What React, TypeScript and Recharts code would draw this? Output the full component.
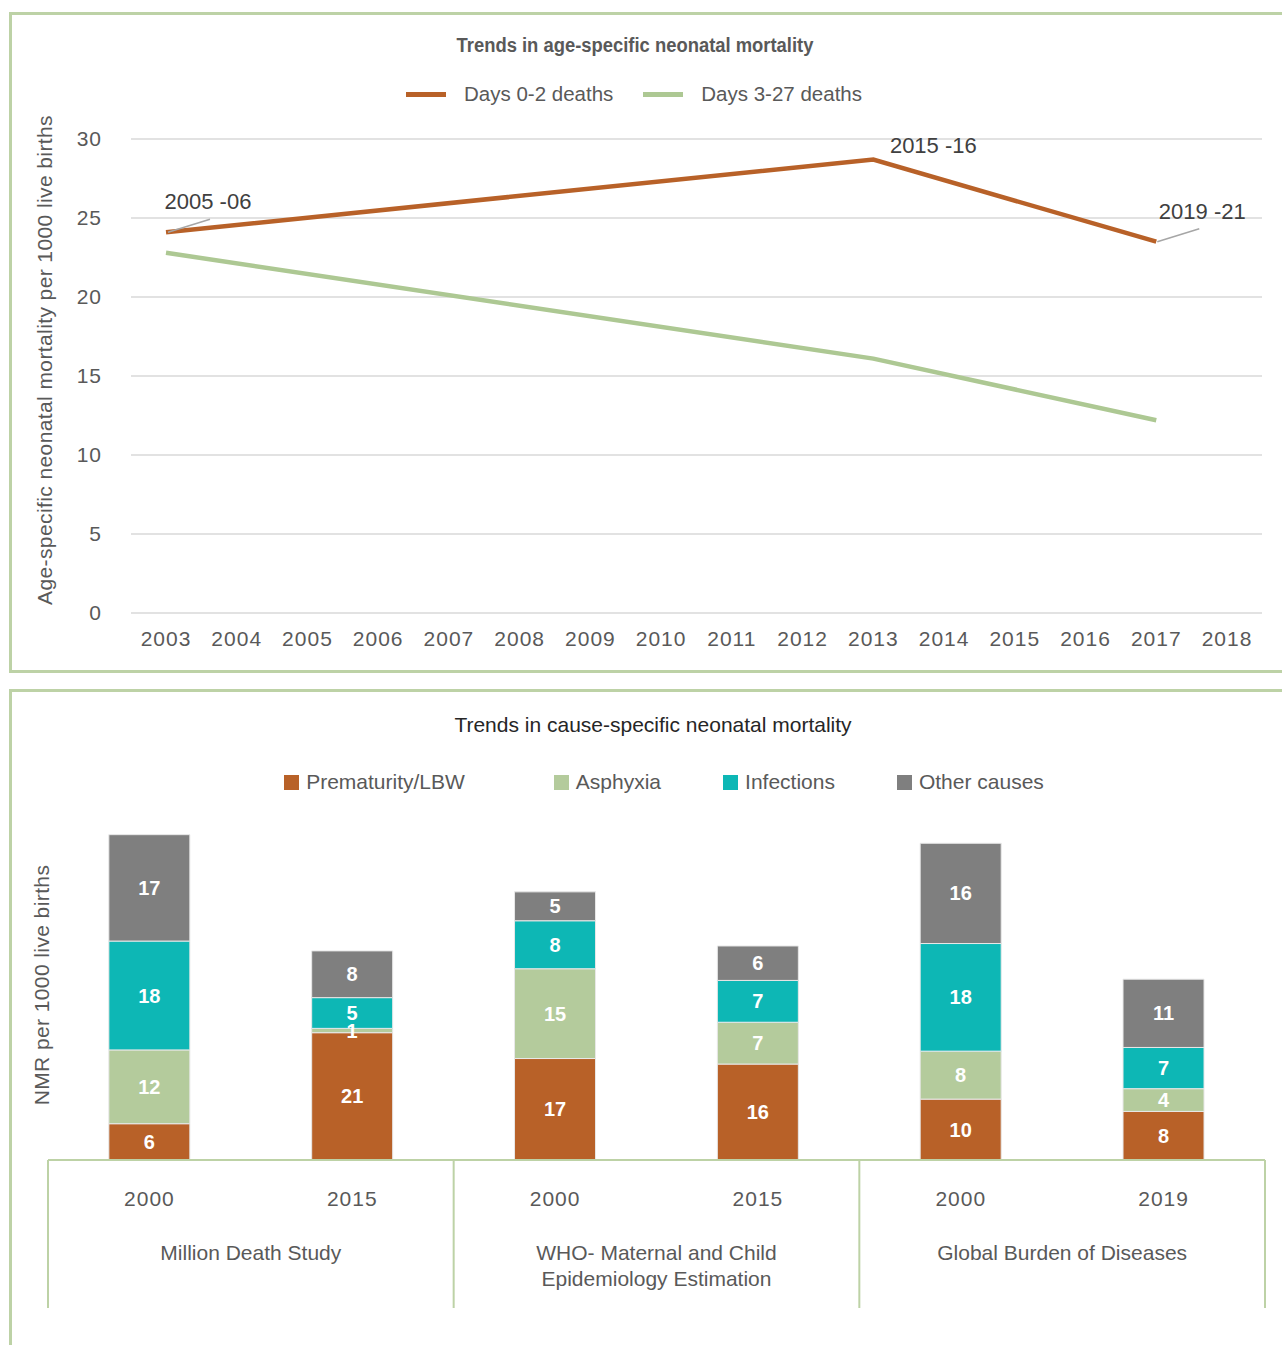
import React from "react";
import { Bar, BarChart, CartesianGrid, LabelList, Legend, Line, LineChart, XAxis, YAxis } from "recharts";

// top chart: age-specific neonatal mortality
const YEARS = ["2003", "2004", "2005", "2006", "2007", "2008", "2009", "2010", "2011", "2012", "2013", "2014", "2015", "2016", "2017", "2018"];
const SURVEY_YEARS = ["2003", "2013", "2017"];
const SURVEY_LABELS = ["2005 -06", "2015 -16", "2019 -21"];
const DAYS_0_2 = [24.1, 28.7, 23.5];
const DAYS_3_27 = [22.8, 16.1, 12.2];
const MORTALITY_TICKS = [0, 5, 10, 15, 20, 25, 30];

// bottom chart: cause-specific neonatal mortality
const STUDY_YEARS = ["2000", "2015", "2000", "2015", "2000", "2019"];
const STUDIES = [["Million Death Study"], ["WHO- Maternal and Child", "Epidemiology Estimation"], ["Global Burden of Diseases"]];
const PREMATURITY = [5.9, 20.7, 16.5, 15.6, 9.9, 7.9];
const ASPHYXIA = [12.0, 0.7, 14.6, 6.8, 7.8, 3.7];
const INFECTIONS = [17.7, 5.0, 7.8, 6.8, 17.5, 6.7];
const OTHER = [17.3, 7.6, 4.7, 5.6, 16.3, 11.1];

const ORANGE = "#B86128";
const SAGE = "#B4CB9C";
const TEAL = "#0DB7B5";
const GREY = "#7F7F7F";
const BORDER = "#BDD2A6";
const TEXT = "#595959";

const LINE_SERIES = [
  { key: "early", name: "Days 0-2 deaths", color: ORANGE },
  { key: "late", name: "Days 3-27 deaths", color: "#ADC893" },
];

const CAUSES = [
  { key: "prematurity", name: "Prematurity/LBW", color: ORANGE },
  { key: "asphyxia", name: "Asphyxia", color: SAGE },
  { key: "infections", name: "Infections", color: TEAL },
  { key: "other", name: "Other causes", color: GREY },
];
const CAUSE_GAPS = [0, 89, 62, 62];

const lineData = YEARS.map((year) => {
  const i = SURVEY_YEARS.indexOf(year);
  return {
    year,
    survey: i >= 0 ? SURVEY_LABELS[i] : undefined,
    early: i >= 0 ? DAYS_0_2[i] : null,
    late: i >= 0 ? DAYS_3_27[i] : null,
  };
});

const barData = STUDY_YEARS.map((year, i) => ({
  year,
  prematurity: PREMATURITY[i],
  asphyxia: ASPHYXIA[i],
  infections: INFECTIONS[i],
  other: OTHER[i],
}));

const W = 1282;
const BAR_MARGIN = { top: 101, right: 17, bottom: 35, left: 48 };
const BAND = (W - BAR_MARGIN.left - BAR_MARGIN.right) / STUDY_YEARS.length;
const TICK_FONT = { fill: TEXT, fontSize: 21, letterSpacing: 1 };

// where each survey label sits relative to its point
const LABEL_POS = [
  { dx: 42, dy: -23, leader: [2, 0, 44, -13] },
  { dx: 60, dy: -7, leader: null },
  { dx: 46, dy: -23, leader: [1, 0, 43, -13] },
];

function SurveyLabel(props: any) {
  const { x, y, value } = props;
  if (value == null || x == null || y == null) return null;
  const pos = LABEL_POS[SURVEY_LABELS.indexOf(value)];
  if (!pos) return null;
  return (
    <g>
      {pos.leader && (
        <line x1={x + pos.leader[0]} y1={y + pos.leader[1]} x2={x + pos.leader[2]} y2={y + pos.leader[3]} stroke="#A6A6A6" strokeWidth={1.5} />
      )}
      <text x={x + pos.dx} y={y + pos.dy} textAnchor="middle" fill="#404040" fontSize={22}>
        {value}
      </text>
    </g>
  );
}

function StudyTick(props: any) {
  const { x, y, payload } = props;
  const i = props.index ?? payload.index;
  const half = BAND / 2;
  const study = i % 2 === 1 ? STUDIES[(i - 1) / 2] : null;
  return (
    <g>
      <text x={x} y={y + 46} textAnchor="middle" {...TICK_FONT}>
        {STUDY_YEARS[i]}
      </text>
      {i % 2 === 0 && <line x1={x - half} x2={x - half} y1={y} y2={y + 148} stroke={BORDER} strokeWidth={2} />}
      {i === STUDY_YEARS.length - 1 && <line x1={x + half} x2={x + half} y1={y} y2={y + 148} stroke={BORDER} strokeWidth={2} />}
      {study && (
        <text x={x - half} y={y + 100} textAnchor="middle" fill={TEXT} fontSize={21}>
          {study.map((line, k) => (
            <tspan key={k} x={x - half} dy={k === 0 ? 0 : 26}>
              {line}
            </tspan>
          ))}
        </text>
      )}
    </g>
  );
}

function LineLegend() {
  return (
    <div style={{ display: "flex", justifyContent: "center", alignItems: "center", paddingRight: 14, fontSize: 20.5, color: TEXT }}>
      {LINE_SERIES.map((s, i) => (
        <div key={s.key} style={{ display: "flex", alignItems: "center", marginLeft: i ? 30 : 0 }}>
          <span style={{ display: "inline-block", width: 40, height: 5, background: s.color, marginRight: 18 }} />
          <span>{s.name}</span>
        </div>
      ))}
    </div>
  );
}

function CauseLegend() {
  return (
    <div style={{ display: "flex", justifyContent: "center", alignItems: "center", paddingLeft: 46, fontSize: 21, color: TEXT }}>
      {CAUSES.map((s, i) => (
        <div key={s.key} style={{ display: "flex", alignItems: "center", marginLeft: CAUSE_GAPS[i] }}>
          <span style={{ display: "inline-block", width: 15, height: 15, background: s.color, marginRight: 7 }} />
          <span>{s.name}</span>
        </div>
      ))}
    </div>
  );
}

function VerticalLabel({ x, y, children }: { x: number; y: number; children: React.ReactNode }) {
  return (
    <div
      style={{
        position: "absolute",
        left: x,
        top: y,
        transform: "translate(-50%, -50%) rotate(-90deg)",
        whiteSpace: "nowrap",
        fontSize: 21,
        letterSpacing: 0.4,
        color: TEXT,
      }}
    >
      {children}
    </div>
  );
}

export default function App() {
  return (
    <div
      style={{
        position: "absolute",
        left: 0,
        top: 0,
        width: W,
        height: 1345,
        overflow: "hidden",
        background: "#fff",
        fontFamily: "'Liberation Sans', Arial, sans-serif",
      }}
    >
      <div style={{ position: "absolute", left: 9, top: 12, width: 1300, height: 661, border: `3px solid ${BORDER}`, boxSizing: "border-box" }} />
      <div style={{ position: "absolute", left: 9, top: 689, width: 1300, height: 700, border: `3px solid ${BORDER}`, boxSizing: "border-box" }} />

      <div
        style={{
          position: "absolute",
          left: 635,
          top: 45,
          transform: "translate(-50%, -50%) scaleX(0.92)",
          whiteSpace: "nowrap",
          fontWeight: "bold",
          fontSize: 20,
          color: TEXT,
        }}
      >
        Trends in age-specific neonatal mortality
      </div>
      <VerticalLabel x={45} y={360}>
        Age-specific neonatal mortality per 1000 live births
      </VerticalLabel>

      <div style={{ position: "absolute", left: 0, top: 0 }}>
        <LineChart width={W} height={672} data={lineData} margin={{ top: 139, right: 20, bottom: 29, left: 0 }}>
          <CartesianGrid vertical={false} stroke="#D9D9D9" strokeWidth={1.5} />
          <XAxis
            dataKey="year"
            interval={0}
            height={30}
            padding={{ left: 35, right: 35 }}
            axisLine={false}
            tickLine={false}
            tickSize={0}
            tickMargin={18}
            tick={TICK_FONT}
          />
          <YAxis
            domain={[0, 30]}
            ticks={MORTALITY_TICKS}
            width={131}
            axisLine={false}
            tickLine={false}
            tickSize={0}
            tickMargin={29}
            tick={TICK_FONT}
          />
          <Legend verticalAlign="middle" align="center" wrapperStyle={{ top: 82, left: 0, width: W }} content={() => <LineLegend />} />
          <Line type="linear" dataKey="late" name="Days 3-27 deaths" stroke="#ADC893" strokeWidth={4.5} dot={false} connectNulls isAnimationActive={false} />
          <Line type="linear" dataKey="early" name="Days 0-2 deaths" stroke={ORANGE} strokeWidth={4.5} dot={false} connectNulls isAnimationActive={false}>
            <LabelList dataKey="survey" content={(p: any) => <SurveyLabel {...p} />} />
          </Line>
        </LineChart>
      </div>

      <div
        style={{
          position: "absolute",
          left: 653,
          top: 725,
          transform: "translate(-50%, -50%)",
          whiteSpace: "nowrap",
          fontSize: 21,
          color: "#262626",
        }}
      >
        Trends in cause-specific neonatal mortality
      </div>
      <VerticalLabel x={42} y={985}>
        NMR per 1000 live births
      </VerticalLabel>

      <div style={{ position: "absolute", left: 0, top: 690 }}>
        <BarChart width={W} height={655} data={barData} margin={BAR_MARGIN} barCategoryGap="30%">
          <XAxis
            dataKey="year"
            interval={0}
            height={150}
            axisLine={{ stroke: BORDER, strokeWidth: 2 }}
            tickLine={false}
            tickSize={0}
            tickMargin={0}
            tick={(p: any) => <StudyTick {...p} />}
          />
          <YAxis hide domain={[0, 60]} />
          <Legend verticalAlign="middle" align="center" wrapperStyle={{ top: 80, left: 0, width: W }} content={() => <CauseLegend />} />
          {CAUSES.map((c) => (
            <Bar key={c.key} dataKey={c.key} name={c.name} stackId="nmr" fill={c.color} stroke="#E8E8E8" strokeWidth={1} isAnimationActive={false}>
              <LabelList
                dataKey={c.key}
                position="center"
                fill="#FFFFFF"
                fontSize={20}
                fontWeight="bold"
                formatter={(v: any) => Math.round(Number(v))}
              />
            </Bar>
          ))}
        </BarChart>
      </div>
    </div>
  );
}
